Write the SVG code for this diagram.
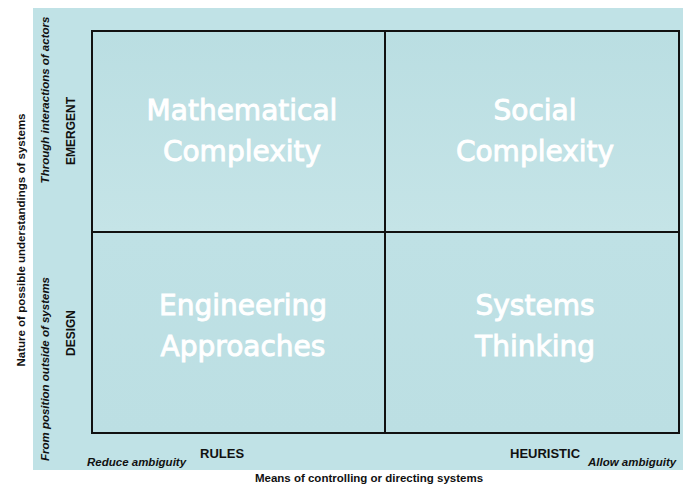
<svg xmlns="http://www.w3.org/2000/svg" width="685" height="485" viewBox="0 0 685 485">
  <style>
    .axis { font-family: "Liberation Sans", Arial, sans-serif; font-weight: bold; fill: #111; }
    .note { font-family: "Liberation Sans", Arial, sans-serif; font-weight: bold; font-style: italic; fill: #111; font-size: 11.5px; }
    .title { font-family: "DejaVu Sans", "Liberation Sans", sans-serif; font-size: 28px; fill: #ffffff; stroke: #ffffff; stroke-width: 0.9; text-anchor: middle; }
    .grid { fill: none; stroke: #111; stroke-width: 2; }
  </style>
  <defs>
    <linearGradient id="topFill" x1="0" y1="0" x2="0" y2="1">
      <stop offset="0" stop-color="#badee2"/>
      <stop offset="1" stop-color="#c5e4e7"/>
    </linearGradient>
    <linearGradient id="botFill" x1="0" y1="0" x2="0" y2="1">
      <stop offset="0" stop-color="#bfe1e5"/>
      <stop offset="1" stop-color="#bcdfe3"/>
    </linearGradient>
  </defs>

  <rect width="685" height="485" fill="#ffffff"/>
  <!-- background panel -->
  <rect x="33" y="8" width="650" height="462" fill="#c0e2e6"/>

  <!-- quadrants -->
  <g id="mathematical-complexity">
    <rect x="92" y="31" width="293" height="201" fill="url(#topFill)"/>
    <text class="title" x="242" y="120">Mathematical</text>
    <text class="title" x="242" y="161">Complexity</text>
  </g>
  <g id="social-complexity">
    <rect x="385" y="31" width="294" height="201" fill="url(#topFill)"/>
    <text class="title" x="535" y="120">Social</text>
    <text class="title" x="535" y="161">Complexity</text>
  </g>
  <g id="engineering-approaches">
    <rect x="92" y="232" width="293" height="201" fill="url(#botFill)"/>
    <text class="title" x="243" y="315">Engineering</text>
    <text class="title" x="243" y="356">Approaches</text>
  </g>
  <g id="systems-thinking">
    <rect x="385" y="232" width="294" height="201" fill="url(#botFill)"/>
    <text class="title" x="535" y="315">Systems</text>
    <text class="title" x="535" y="356">Thinking</text>
  </g>

  <!-- grid lines -->
  <g id="connectors">
    <rect class="grid" x="92" y="31" width="587" height="402"/>
    <line class="grid" x1="385" y1="31" x2="385" y2="433"/>
    <line class="grid" x1="92" y1="232" x2="679" y2="232"/>
  </g>

  <!-- vertical axis labels -->
  <g id="vertical-axis">
    <text class="axis" font-size="11.5" text-anchor="middle" transform="translate(25,240) rotate(-90)">Nature of possible understandings of systems</text>
    <text class="note" text-anchor="middle" transform="translate(49,100) rotate(-90)">Through interactions of actors</text>
    <text class="note" text-anchor="middle" transform="translate(49,369) rotate(-90)">From position outside of systems</text>
    <text class="axis" font-size="12" text-anchor="middle" transform="translate(75,131) rotate(-90)">EMERGENT</text>
    <text class="axis" font-size="12" text-anchor="middle" transform="translate(75,333) rotate(-90)">DESIGN</text>
  </g>

  <!-- horizontal axis labels -->
  <g id="horizontal-axis">
    <text class="axis" font-size="13" x="200" y="458">RULES</text>
    <text class="note" x="87" y="466">Reduce ambiguity</text>
    <text class="axis" font-size="13" x="510" y="458">HEURISTIC</text>
    <text class="note" x="588" y="466">Allow ambiguity</text>
    <text class="axis" font-size="11.5" text-anchor="middle" x="369" y="482">Means of controlling or directing systems</text>
  </g>
</svg>
